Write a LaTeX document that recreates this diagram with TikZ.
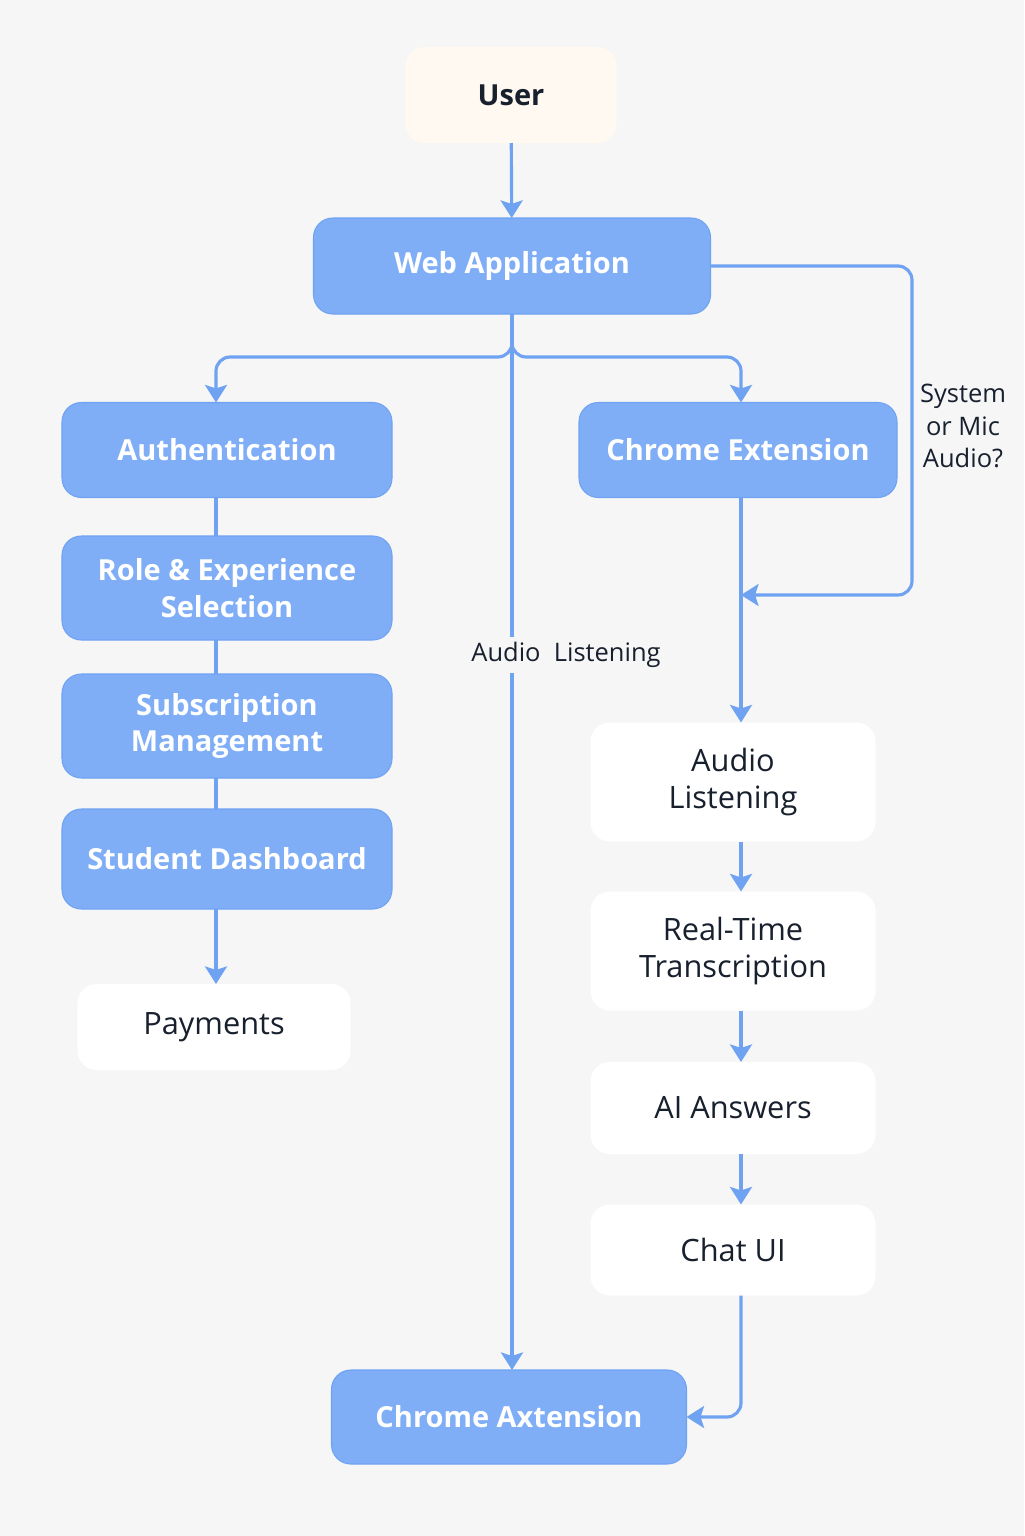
\documentclass[tikz,border=0pt]{standalone}
\usepackage{fontspec}
\setmainfont{Open Sans}
\usetikzlibrary{positioning}
\usetikzlibrary{arrows.meta}

\definecolor{bg-a}{HTML}{F6F6F6}
\definecolor{blue-a}{HTML}{7FAEF7}
\definecolor{blue-b}{HTML}{6FA3F2}
\definecolor{cream-a}{HTML}{FFF9F1}
\definecolor{ink-a}{HTML}{18202E}

\begin{document}
\begin{tikzpicture}
[
x=0.2mm, y=-0.2mm,
box-a/.style={rectangle, rounded corners=11pt, draw=blue-b, fill=blue-a, line width=0.6pt,
  text=white, font=\fontsize{16.5}{21}\selectfont\bfseries, align=center,
  inner sep=0pt, outer sep=0pt, minimum width=66mm, minimum height=19mm},
box-b/.style={box-a, draw=none, fill=white, text=ink-a, font=\fontsize{17.5}{21}\selectfont,
  minimum width=57mm},
box-c/.style={box-a, draw=none, fill=cream-a, text=ink-a},
text-a/.style={ink-a, font=\fontsize{14.5}{18.7}\selectfont, align=center, inner sep=3pt},
line-a/.style={draw=blue-b, line width=1.8pt},
arrow-a/.style={line-a, -{Stealth[length=10pt, width=12.5pt, inset=2pt]}},
]
\fill [bg-a] (0,0) rectangle (1024,1536);

\node (n-user)   [box-c, minimum width=42.2mm, minimum height=19.2mm] at (511,95)  {User};
\node (n-web)    [box-a, minimum width=79.4mm, minimum height=19.2mm] at (512,266) {Web Application};
\node (n-auth)   [box-a]                                              at (227,450) {Authentication};
\node (n-role)   [box-a, minimum height=20.8mm]                       at (227,588) {Role \& Experience\\Selection};
\node (n-sub)    [box-a, minimum height=20.8mm]                       at (227,726) {Subscription\\Management};
\node (n-dash)   [box-a, minimum height=20mm]                         at (227,859) {Student Dashboard};
\node (n-pay)    [box-b, minimum width=54.6mm, minimum height=17.2mm] at (214,1027) {Payments};
\node (n-ext)    [box-a, minimum width=63.6mm]                        at (738,450) {Chrome Extension};
\node (n-listen) [box-b, minimum height=23.8mm]                       at (733,782) {Audio\\Listening};
\node (n-trans)  [box-b, minimum height=23.8mm]                       at (733,951) {Real-Time\\Transcription};
\node (n-ai)     [box-b, minimum height=18.4mm]                       at (733,1108) {AI Answers};
\node (n-chat)   [box-b, minimum height=18.2mm]                       at (733,1250) {Chat UI};
\node (n-axt)    [box-a, minimum width=71mm, minimum height=18.8mm]   at (509,1417) {Chrome Axtension};
\node (l-sys)    [text-a]                                             at (963,426) {System\\or Mic\\Audio?};

\coordinate (c-left)  at (216,0);
\coordinate (c-right) at (741,0);
\coordinate (c-split) at (512,357);
\coordinate (c-loop)  at (912,595);
\coordinate (c-back)  at (741,595);

\draw [arrow-a] (n-user) -- (n-web);
\draw [arrow-a, rounded corners=8pt] (n-web.south) -- (c-split) -| (c-left |- n-auth.north);
\draw [arrow-a, rounded corners=8pt] (n-web.south) -- (c-split) -| (c-right |- n-ext.north);
\draw [arrow-a] (n-web.south) -- (n-web.south |- n-axt.north)
  node (l-audio) [text-a, pos=0.323, xshift=10.8mm, fill=bg-a] {Audio\ \ Listening};
\draw [arrow-a, rounded corners=8pt] (n-web.east) -| (c-loop) -- (c-back);

\draw [line-a]  (c-left |- n-auth.south) -- (c-left |- n-role.north);
\draw [line-a]  (c-left |- n-role.south) -- (c-left |- n-sub.north);
\draw [line-a]  (c-left |- n-sub.south)  -- (c-left |- n-dash.north);
\draw [arrow-a] (c-left |- n-dash.south) -- (c-left |- n-pay.north);

\draw [arrow-a] (c-right |- n-ext.south)    -- (c-right |- n-listen.north);
\draw [arrow-a] (c-right |- n-listen.south) -- (c-right |- n-trans.north);
\draw [arrow-a] (c-right |- n-trans.south)  -- (c-right |- n-ai.north);
\draw [arrow-a] (c-right |- n-ai.south)     -- (c-right |- n-chat.north);
\draw [arrow-a, rounded corners=8pt] (c-right |- n-chat.south) |- (n-axt.east);
\end{tikzpicture}
\end{document}
